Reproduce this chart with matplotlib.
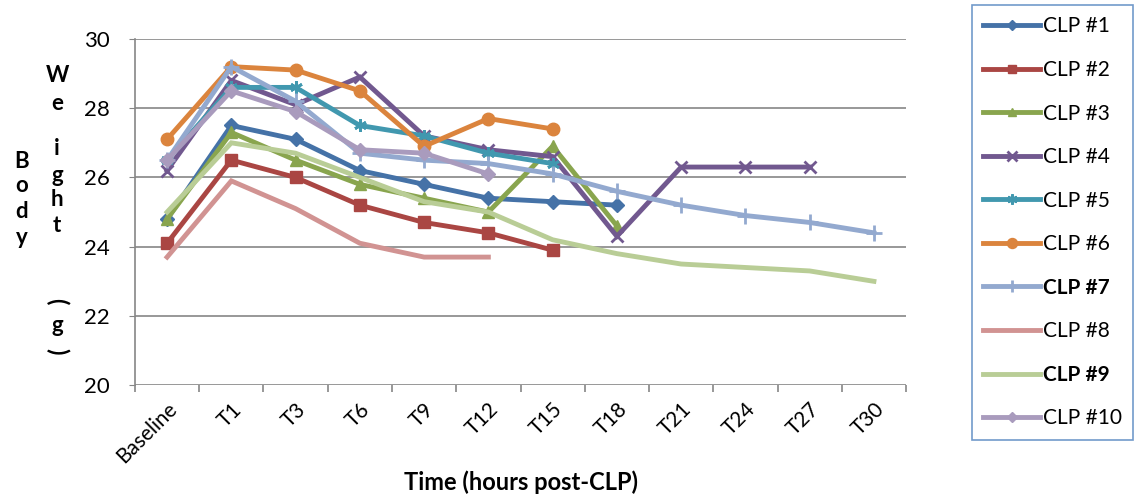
import numpy as np
import matplotlib
matplotlib.use("Agg")
import matplotlib.pyplot as plt

plt.rcParams['font.family'] = ['Lato', 'DejaVu Sans']

# ---------------------------
# Datos
# ---------------------------
categorias = ["Baseline", "T1", "T3", "T6", "T9", "T12", "T15", "T18",
              "T21", "T24", "T27", "T30"]

clp1 = [24.8, 27.5, 27.1, 26.2, 25.8, 25.4, 25.3, 25.2]
clp2 = [24.1, 26.5, 26.0, 25.2, 24.7, 24.4, 23.9]
clp3 = [24.8, 27.3, 26.5, 25.8, 25.4, 25.0, 26.9, 24.6]
clp4 = [26.2, 28.8, 28.1, 28.9, 27.2, 26.8, 26.6, 24.3, 26.3, 26.3, 26.3]
clp5 = [26.5, 28.6, 28.6, 27.5, 27.2, 26.7, 26.4]
clp6 = [27.1, 29.2, 29.1, 28.5, 26.9, 27.7, 27.4]
clp7 = [26.5, 29.2, 28.2, 26.7, 26.5, 26.4, 26.1, 25.6, 25.2, 24.9, 24.7, 24.4]
clp8 = [23.7, 25.9, 25.1, 24.1, 23.7, 23.7]
clp9 = [25.0, 27.0, 26.7, 26.0, 25.3, 25.0, 24.2, 23.8, 23.5, 23.4, 23.3, 23.0]
clp10 = [26.5, 28.5, 27.9, 26.8, 26.7, 26.1]

etiquetas = ["CLP #1", "CLP #2", "CLP #3", "CLP #4", "CLP #5",
             "CLP #6", "CLP #7", "CLP #8", "CLP #9", "CLP #10"]

# ---------------------------
# Estilos (colores tipo Excel)
# ---------------------------
series = [clp1, clp2, clp3, clp4, clp5, clp6, clp7, clp8, clp9, clp10]
colores = ["#4572A7", "#AA4643", "#89A54E", "#71588F", "#4198AF",
           "#DB843D", "#93A9CF", "#D19392", "#B9CD96", "#A99BBD"]
marcadores = ["D", "s", "^", "x", (6, 2, 0), "o", "+", None, None, "D"]
tamanos = [7, 8, 8, 9, 9, 9, 11, 0, 0, 7]

# ---------------------------
# Gráfica
# ---------------------------
fig = plt.figure(figsize=(11.34, 4.99), dpi=100)
ax = fig.add_axes([0.119, 0.228, 0.680, 0.694])

x = np.arange(len(categorias))
for vals, col, m, ms, lab in zip(series, colores, marcadores, tamanos, etiquetas):
    ax.plot(x[:len(vals)], vals, color=col, lw=3.5, marker=m, ms=ms,
            mew=2 if m in ("x", "+", (6, 2, 0)) else 1, mec=col, mfc=col,
            label=lab, solid_joinstyle="miter")

ax.set_xlim(-0.5, len(categorias) - 0.5)
ax.set_ylim(20, 30)
ax.set_yticks(np.arange(20, 31, 2))
ax.set_xticks(x)
ax.set_xticks(np.arange(-0.5, len(categorias), 1), minor=True)
ax.set_xticklabels(categorias, rotation=45, ha="right", rotation_mode="anchor")
ax.tick_params(axis="x", which="major", length=0, labelsize=15, pad=10)
ax.tick_params(axis="x", which="minor", length=5, color="#868686", width=1.2)
ax.tick_params(axis="y", length=4, color="#868686", labelsize=16, pad=14)
ax.grid(axis="y", color="#868686", lw=1.2)
ax.set_axisbelow(True)
for s in ["top", "right", "bottom"]:
    ax.spines[s].set_visible(False)
ax.spines["left"].set_color("#868686")
ax.spines["left"].set_linewidth(1.2)

ax.set_xlabel("Time (hours post-CLP)", fontsize=17, fontweight="bold", labelpad=2)

# etiqueta Y apilada en dos columnas
for ch, yy in zip("Body", [161, 186, 212, 238]):
    fig.text(22 / 1134, 1 - yy / 499, ch, fontsize=16, fontweight="bold",
             ha="center", va="center")
for ch, yy in zip("Weight", [75, 104, 148, 175, 200, 226]):
    fig.text(57 / 1134, 1 - yy / 499, ch, fontsize=16, fontweight="bold",
             ha="center", va="center")
# paréntesis girados
fig.text(57 / 1134, 1 - 301 / 499, "(", fontsize=17, fontweight="bold",
         ha="center", va="center", rotation=270)
fig.text(57 / 1134, 1 - 326 / 499, "g", fontsize=16, fontweight="bold",
         ha="center", va="center")
fig.text(57 / 1134, 1 - 351 / 499, ")", fontsize=17, fontweight="bold",
         ha="center", va="center", rotation=270)

leg = ax.legend(loc="upper left", bbox_to_anchor=(972 / 1134, 1 - 5 / 499),
                bbox_transform=fig.transFigure, fontsize=15, frameon=True,
                fancybox=False, edgecolor="#4F81BD", handlelength=2.7,
                handletextpad=0.15, labelspacing=1.13, borderpad=0.55,
                borderaxespad=0, markerscale=0.8)
leg.get_frame().set_linewidth(1.2)
leg.get_texts()[6].set_fontweight("bold")
leg.get_texts()[8].set_fontweight("bold")

fig.savefig("out.png", dpi=100)
